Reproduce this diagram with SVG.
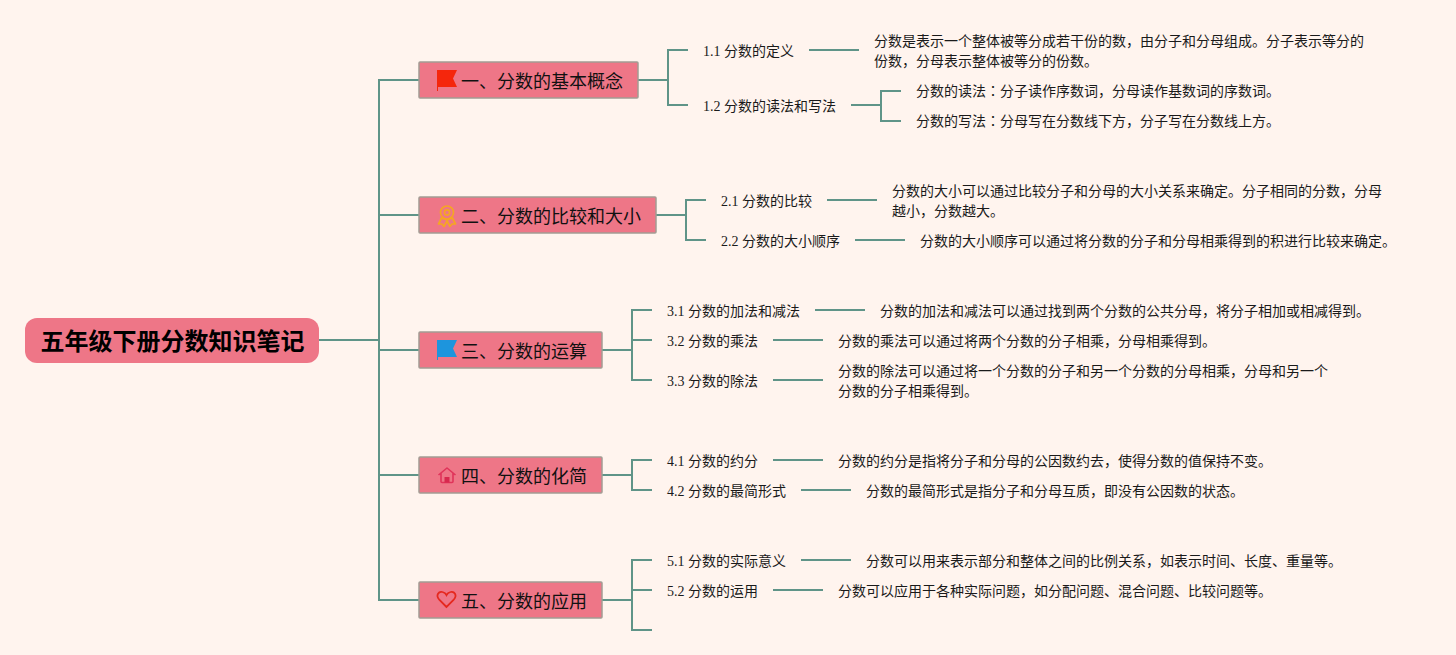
<svg xmlns="http://www.w3.org/2000/svg" width="1456" height="655" viewBox="0 0 1456 655">
<style>
text{font-family:"Liberation Serif","Noto Sans CJK SC",sans-serif;fill:#1a1a1a}
.root{font-size:24px;font-weight:700;fill:#000}
.b{font-size:18px;fill:#111}
.t{font-size:14px}
.jp{font-family:"Noto Sans CJK JP",sans-serif}
.box{fill:#ee7687;stroke:#a39c94;stroke-width:1.500}
.c{fill:none;stroke:#5f9488;stroke-width:2}
</style>
<rect width="1456" height="655" fill="#fff4ee"/>
<g id="connectors" class="c">
<path d="M319 340H379M419 80H379V600H419M379 215H419M379 350H419M379 475H419"/>
<path d="M638 80H668M688 50H668V105H688M809 50H859M851 105H881M901 91H881V121H901"/>
<path d="M656 215H686M706 200H686V240H706M827 200H877M855 240H905"/>
<path d="M602 350H632M652 310H632V380H652M632 340H652M815 310H865M773 340H823M773 380H823"/>
<path d="M602 475H632M652 460H632V490H652M773 460H823M801 490H851"/>
<path d="M602 600H632M652 560H632V630H652M632 590H652M801 560H851M773 590H823"/>
</g>
<g id="root"><rect x="25" y="318" width="294" height="45" rx="12" fill="#ee7687"/><text class="root" x="40.500" y="350">五年级下册分数知识笔记</text></g>
<g id="n1">
<rect class="box" x="419" y="62" width="219" height="36" rx="1"/>
<path d="M437 70H457L453 78.500L457 87H438V91H437Z" fill="#f5260c"/>
<text class="b" x="461" y="88">一、分数的基本概念</text>
</g>
<g id="n2">
<rect class="box" x="419" y="197" width="237" height="36" rx="1"/>
<g fill="none" stroke="#f5a623" stroke-width="1.700"><circle cx="447" cy="212.500" r="6.500"/><circle cx="447" cy="212.500" r="2.600"/></g>
<path d="M441.500 218L438.500 224L442 224L444 226.500L447 221L450 226.500L452 224L455.500 224L452.500 218L447 220Z" fill="none" stroke="#f5a623" stroke-width="1.700" stroke-linejoin="round"/>
<text class="b" x="461" y="223">二、分数的比较和大小</text>
</g>
<g id="n3">
<rect class="box" x="419" y="332" width="183" height="36" rx="1"/>
<path d="M437 340H457L453 348.500L457 357H438V360H437Z" fill="#1d95dd"/>
<text class="b" x="461" y="358">三、分数的运算</text>
</g>
<g id="n4">
<rect class="box" x="419" y="457" width="183" height="36" rx="1"/>
<path d="M438.500 475L447 468L455.500 475M441 473V481.500Q441 482.500 442 482.500H452Q453 482.500 453 481.500V473" fill="none" stroke="#e0345a" stroke-width="1.600" stroke-linejoin="round"/><rect x="444.500" y="477" width="5" height="5.500" fill="#d8284e"/>
<text class="b" x="461" y="483">四、分数的化简</text>
</g>
<g id="n5">
<rect class="box" x="419" y="582" width="183" height="36" rx="1"/>
<path d="M446.500 607L439.500 600C435 595 439 591 442.500 592C444.500 592.500 446 594 446.500 595C447 594 448.500 592.500 450.500 592C454 591 458 595 453.500 600Z" fill="none" stroke="#e5281e" stroke-width="1.800"/>
<text class="b" x="461" y="608">五、分数的应用</text>
</g>
<g id="l11" class="t"><text x="703" y="56">1.1 分数的定义</text></g>
<g id="d11" class="t"><text x="874" y="46">分数是表示一个整体被等分成若干份的数，由分子和分母组成。分子表示等分的</text><text x="874" y="66">份数，分母表示整体被等分的份数。</text></g>
<g id="l12" class="t"><text x="703" y="111">1.2 分数的读法和写法</text></g>
<g id="d121" class="t"><text x="916" y="96">分数的读法<tspan class="jp">：</tspan>分子读作序数词，分母读作基数词的序数词。</text></g>
<g id="d122" class="t"><text x="916" y="126">分数的写法<tspan class="jp">：</tspan>分母写在分数线下方，分子写在分数线上方。</text></g>
<g id="l21" class="t"><text x="721" y="206">2.1 分数的比较</text></g>
<g id="d21" class="t"><text x="892" y="196">分数的大小可以通过比较分子和分母的大小关系来确定。分子相同的分数，分母</text><text x="892" y="216">越小，分数越大。</text></g>
<g id="l22" class="t"><text x="721" y="246">2.2 分数的大小顺序</text></g>
<g id="d22" class="t"><text x="920" y="246">分数的大小顺序可以通过将分数的分子和分母相乘得到的积进行比较来确定。</text></g>
<g id="l31" class="t"><text x="667" y="316">3.1 分数的加法和减法</text></g>
<g id="d31" class="t"><text x="880" y="316">分数的加法和减法可以通过找到两个分数的公共分母，将分子相加或相减得到。</text></g>
<g id="l32" class="t"><text x="667" y="346">3.2 分数的乘法</text></g>
<g id="d32" class="t"><text x="838" y="346">分数的乘法可以通过将两个分数的分子相乘，分母相乘得到。</text></g>
<g id="l33" class="t"><text x="667" y="386">3.3 分数的除法</text></g>
<g id="d33" class="t"><text x="838" y="376">分数的除法可以通过将一个分数的分子和另一个分数的分母相乘，分母和另一个</text><text x="838" y="396">分数的分子相乘得到。</text></g>
<g id="l41" class="t"><text x="667" y="466">4.1 分数的约分</text></g>
<g id="d41" class="t"><text x="838" y="466">分数的约分是指将分子和分母的公因数约去，使得分数的值保持不变。</text></g>
<g id="l42" class="t"><text x="667" y="496">4.2 分数的最简形式</text></g>
<g id="d42" class="t"><text x="866" y="496">分数的最简形式是指分子和分母互质，即没有公因数的状态。</text></g>
<g id="l51" class="t"><text x="667" y="566">5.1 分数的实际意义</text></g>
<g id="d51" class="t"><text x="866" y="566">分数可以用来表示部分和整体之间的比例关系，如表示时间、长度、重量等。</text></g>
<g id="l52" class="t"><text x="667" y="596">5.2 分数的运用</text></g>
<g id="d52" class="t"><text x="838" y="596">分数可以应用于各种实际问题，如分配问题、混合问题、比较问题等。</text></g>
</svg>
